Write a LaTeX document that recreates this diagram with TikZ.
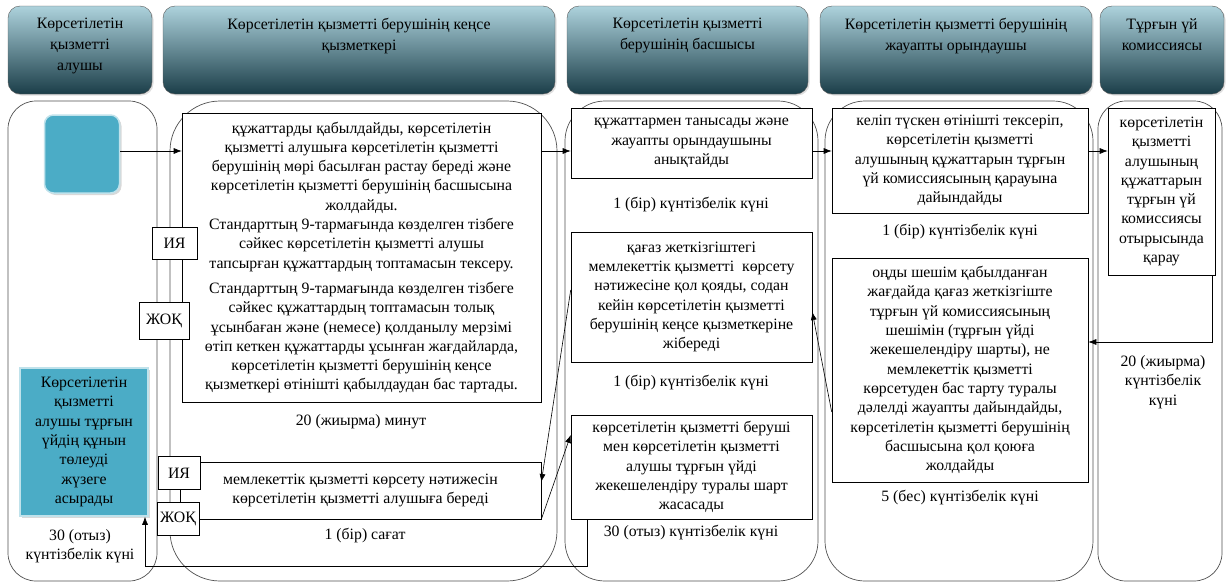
\documentclass[tikz,border=0pt]{standalone}
\usepackage{fontspec}
\setmainfont{Liberation Serif}
\usetikzlibrary{arrows.meta, shadows}
\definecolor{hdtop}{HTML}{ADD2DC}
\definecolor{hdmid}{HTML}{5A8A97}
\definecolor{hdbot}{HTML}{1B3E49}
\definecolor{tealfill}{HTML}{4BACC6}
\definecolor{laneline}{HTML}{505050}
\newcommand{\hdtext}[2]{\parbox[t][63pt][t]{#1}{\centering\fontsize{15.8}{21}\selectfont #2}}

\begin{document}
\begin{tikzpicture}[x=1pt, y=-1pt, >={Latex[length=8pt,width=6pt]},
    font=\fontsize{15.8}{19.3}\selectfont,
    hdbox/.style={draw=gray!70!black, rounded corners=12pt, top color=hdtop, middle color=hdmid,
      bottom color=hdbot, minimum height=88, inner sep=0pt,
      drop shadow={opacity=0.25, shadow xshift=1.5pt, shadow yshift=-1.5pt}},
    lanebox/.style={draw=laneline, line width=0.7pt},
    stepbox/.style={draw, fill=white, line width=0.6pt, align=center, inner sep=0pt},
    tealbox/.style={fill=tealfill, draw=tealfill!35!white, line width=1.5pt, align=center, inner sep=0pt,
      drop shadow={opacity=0.3, shadow xshift=2pt, shadow yshift=-2pt}},
    tagbox/.style={draw, fill=white, line width=0.6pt, inner sep=0pt},
    timenote/.style={align=center, inner sep=0pt},
    conn/.style={line width=0.6pt}]

  \useasboundingbox (0,0) rectangle (1227,584);

  \node[hdbox, minimum width=144] (hA) at (80,50) {\hdtext{140pt}{Көрсетілетін\\қызметті\\алушы}};
  \node[hdbox, minimum width=392] (hB) at (359,50) {\hdtext{380pt}{Көрсетілетін қызметті берушінің кеңсе\\қызметкері}};
  \node[hdbox, minimum width=241] (hC) at (687.5,50) {\hdtext{235pt}{Көрсетілетін қызметті\\берушінің басшысы}};
  \node[hdbox, minimum width=272] (hD) at (956,50) {\hdtext{265pt}{Көрсетілетін қызметті берушінің\\жауапты орындаушы}};
  \node[hdbox, minimum width=124] (hE) at (1162,50) {\hdtext{120pt}{Тұрғын үй\\комиссиясы}};

  \draw[lanebox, rounded corners=28pt] (8,101) rectangle (157,581);
  \draw[lanebox, rounded corners=50pt] (170,101) rectangle (557,581);
  \draw[lanebox, rounded corners=40pt] (565,101) rectangle (818,581);
  \draw[lanebox, rounded corners=40pt] (825,101) rectangle (1093,581);
  \draw[lanebox, rounded corners=28pt] (1098,101) rectangle (1222,581);

  \node[tealbox, rounded corners=9pt, minimum width=75, minimum height=78] (start) at (82,154) {};
  \node[tealbox, minimum width=128, minimum height=148] (pay) at (84,442)
    {Көрсетілетін\\қызметті\\алушы тұрғын\\үйдің құнын\\төлеуді\\жүзеге\\асырады};
  \node[timenote] (tPay) at (80,546) {30 (отыз)\\күнтізбелік күні};

  \node[stepbox, minimum width=359, minimum height=289] (recv) at (361.5,257.5)
    {құжаттарды қабылдайды, көрсетілетін\\қызметті алушыға көрсетілетін қызметті\\берушінің мөрі басылған растау береді және\\
     көрсетілетін қызметті берушінің басшысына\\жолдайды.\\Стандарттың 9-тармағында көзделген тізбеге\\
     сәйкес көрсетілетін қызметті алушы\\тапсырған құжаттардың топтамасын тексеру.\\[6pt]
     Стандарттың 9-тармағында көзделген тізбеге\\сәйкес құжаттардың топтамасын толық\\
     ұсынбаған және (немесе) қолданылу мерзімі\\өтіп кеткен құжаттарды ұсынған жағдайларда,\\
     көрсетілетін қызметті берушінің кеңсе\\қызметкері өтінішті қабылдаудан бас тартады.};
  \node[timenote] (tRecv) at (361,422) {20 (жиырма) минут};
  \node[stepbox, minimum width=361, minimum height=57] (give) at (360.5,490.5)
    {мемлекеттік қызметті көрсету нәтижесін\\көрсетілетін қызметті алушыға береді};
  \node[timenote] (tGive) at (365,536) {1 (бір) сағат};

  \node[stepbox, minimum width=241, minimum height=70] (ack) at (691.5,143)
    {құжаттармен танысады және\\жауапты орындаушыны\\анықтайды};
  \node[timenote] (tAck) at (691,205) {1 (бір) күнтізбелік күні};
  \node[stepbox, minimum width=241, minimum height=130] (sign) at (691.5,297)
    {қағаз жеткізгіштегі\\мемлекеттік қызметті\ \ көрсету\\нәтижесіне қол қояды, содан\\
     кейін көрсетілетін қызметті\\берушінің кеңсе қызметкеріне\\жібереді};
  \node[timenote] (tSign) at (691,383) {1 (бір) күнтізбелік күні};
  \node[stepbox, minimum width=241, minimum height=104] (deal) at (691.5,467)
    {көрсетілетін қызметті беруші\\мен көрсетілетін қызметті\\алушы тұрғын үйді\\жекешелендіру туралы шарт\\жасасады};
  \node[timenote] (tDeal) at (691,533) {30 (отыз) күнтізбелік күні};

  \node[stepbox, minimum width=256, minimum height=105] (check) at (960,160.5)
    {келіп түскен өтінішті тексеріп,\\көрсетілетін қызметті\\алушының құжаттарын тұрғын\\үй комиссиясының қарауына\\дайындайды};
  \node[timenote] (tCheck) at (960,232) {1 (бір) күнтізбелік күні};
  \node[stepbox, minimum width=256, minimum height=224] (prep) at (960,370)
    {оңды шешім қабылданған\\жағдайда қағаз жеткізгіште\\тұрғын үй комиссиясының\\шешімін (тұрғын үйді\\
     жекешелендіру шарты), не\\мемлекеттік қызметті\\көрсетуден бас тарту туралы\\дәлелді жауапты дайындайды,\\
     көрсетілетін қызметті берушінің\\басшысына қол қоюға\\жолдайды};
  \node[timenote] (tPrep) at (960,498) {5 (бес) күнтізбелік күні};

  \node[stepbox, minimum width=107, minimum height=167] (board) at (1161.5,191.5)
    {көрсетілетін\\қызметті\\алушының\\құжаттарын\\тұрғын үй\\комиссиясы\\отырысында\\қарау};
  \node[timenote] (tBoard) at (1163,382) {20 (жиырма)\\күнтізбелік\\күні};

  \coordinate (loop) at (145,566);
  \draw[conn, ->] (start.east |- 0,151) -- (recv.west |- 0,151);
  \draw[conn, ->] (recv.east |- 0,151) -- (ack.west |- 0,151);
  \draw[conn, ->] (ack.east |- 0,151) -- (check.west |- 0,151);
  \draw[conn, ->] (check.east |- 0,151) -- (board.west |- 0,151);
  \draw[conn, ->] ([xshift=-3pt]board.south east) |- (prep.east |- 0,342);
  \draw[conn, ->] (prep.west |- 0,412) -- (sign.east |- 0,312);
  \draw[conn, ->] (sign.west |- 0,290) -- (give.east |- 0,482);
  \draw[conn, ->] (give.south east) -- (deal.west |- 0,435);
  \draw[conn, ->] (deal.south -| 587,0) |- (loop) -- (pay.south -| loop);

  \node[tagbox, minimum width=45, minimum height=32] (yesA) at (174.5,243) {ИЯ};
  \node[tagbox, minimum width=50, minimum height=37] (noA) at (164,321) {ЖОҚ};
  \node[tagbox, minimum width=42, minimum height=33] (yesB) at (179,473) {ИЯ};
  \node[tagbox, minimum width=42, minimum height=33] (noB) at (178,519) {ЖОҚ};
\end{tikzpicture}
\end{document}
